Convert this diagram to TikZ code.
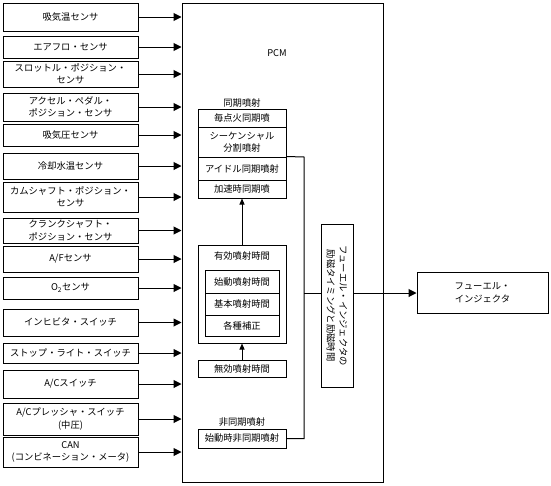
\documentclass[tikz,border=0pt]{standalone}
\usepackage{fontspec}
\setmainfont{Noto Sans CJK JP}
\usetikzlibrary{arrows.meta}
\begin{document}
\begin{tikzpicture}[x=1pt,y=-1pt,
  every node/.style={font=\fontsize{9.3}{12.5}\selectfont, inner sep=0pt, align=center},
  box/.style={draw, line width=1pt, minimum width=#1},
  sbox/.style={box=135pt},
  ibox/.style={box=88pt},
  jbox/.style={box=74pt},
  arr/.style={line width=1pt, -{Triangle[length=8pt,width=8pt]}},
  sarr/.style={line width=1pt, -{Triangle[length=6pt,width=5pt]}},
  ln/.style={line width=1pt}]
\useasboundingbox (0,0) rectangle (551,485);
% sensors
\node[sbox, minimum height=28pt] (s1) at (70.5,17) {吸気温センサ};
\node[sbox, minimum height=22pt] (s2) at (70.5,47) {エアフロ・センサ};
\node[sbox, minimum height=26pt] (s3) at (70.5,74) {スロットル・ポジション・\\センサ};
\node[sbox, minimum height=28pt] (s4) at (70.5,107) {アクセル・ペダル・\\ポジション・センサ};
\node[sbox, minimum height=22pt] (s5) at (70.5,135) {吸気圧センサ};
\node[sbox, minimum height=26pt] (s6) at (70.5,166) {冷却水温センサ};
\node[sbox, minimum height=30pt] (s7) at (70.5,197) {カムシャフト・ポジション・\\センサ};
\node[sbox, minimum height=25pt] (s8) at (70.5,230.5) {クランクシャフト・\\ポジション・センサ};
\node[sbox, minimum height=26pt] (s9) at (70.5,259) {A/Fセンサ};
\node[sbox, minimum height=22pt] (s10) at (70.5,288) {O\textsubscript{2}センサ};
\node[sbox, minimum height=27pt] (s11) at (70.5,322.5) {インヒビタ・スイッチ};
\node[sbox, minimum height=20pt] (s12) at (70.5,353) {ストップ・ライト・スイッチ};
\node[sbox, minimum height=28pt] (s13) at (70.5,384) {A/Cスイッチ};
\node[sbox, minimum height=32pt] (s14) at (70.5,419) {A/Cプレッシャ・スイッチ\\(中圧)};
\node[sbox, minimum height=30pt] (s15) at (70.5,452) {CAN\\(コンビネーション・メータ)};
% PCM
\node[draw, line width=1pt, minimum width=201pt, minimum height=479pt] (pcm) at (282.5,242.5) {};
\node (pcmlabel) at (277,53) {PCM};
\foreach \i in {1,...,15} {
  \draw[arr] (s\i.east) -- (s\i.east -| pcm.west);
}
% synchronous injection
\node (synclabel) at (242,103) {同期噴射};
\node[ibox, minimum height=18pt] (everyig) at (242,118) {毎点火同期噴};
\node[ibox, minimum height=30pt] (seq) at (242,142) {シーケンシャル\\分割噴射};
\node[ibox, minimum height=23pt] (idle) at (242,168.5) {アイドル同期噴射};
\node[ibox, minimum height=18pt] (accel) at (242,189) {加速時同期噴};
% effective injection time
\node[ibox, minimum height=98pt] (eff) at (242,294) {};
\node (efflabel) at (242,256) {有効噴射時間};
\node[jbox, minimum height=23pt] (start) at (242,281.5) {始動噴射時間};
\node[jbox, minimum height=22pt] (basic) at (242,304) {基本噴射時間};
\node[jbox, minimum height=21pt] (corr) at (242,325.5) {各種補正};
\node[ibox, minimum height=17pt] (inv) at (242,368.5) {無効噴射時間};
\draw[sarr] (eff.north) -- (accel.south);
\draw[sarr] (inv.north) -- (eff.south);
% asynchronous
\node (asynclabel) at (242,422) {非同期噴射};
\node[ibox, minimum height=19pt] (async) at (242,438.5) {始動時非同期噴射};
% excitation
\node[draw, line width=1pt, minimum width=32pt, minimum height=163pt] (vbox) at (337,305.5) {};
\node[rotate=-90] (vtext) at (vbox.center) {フューエル・インジェクタの\\励磁タイミングと励磁時間};
\node[draw, line width=1pt, minimum width=131pt, minimum height=41pt] (out) at (482.5,292.5) {フューエル・\\インジェクタ};
\coordinate (j1) at (304,157);
\coordinate (j2) at (304,438.5);
\coordinate (j3) at (304,293);
\draw[ln] (idle.north east) -- (j1) -- (j2) -- (async.east);
\draw[ln] (j3) -- (j3 -| vbox.west);
\draw[arr] (j3 -| vbox.east) -- (j3 -| out.west);
\end{tikzpicture}
\end{document}
